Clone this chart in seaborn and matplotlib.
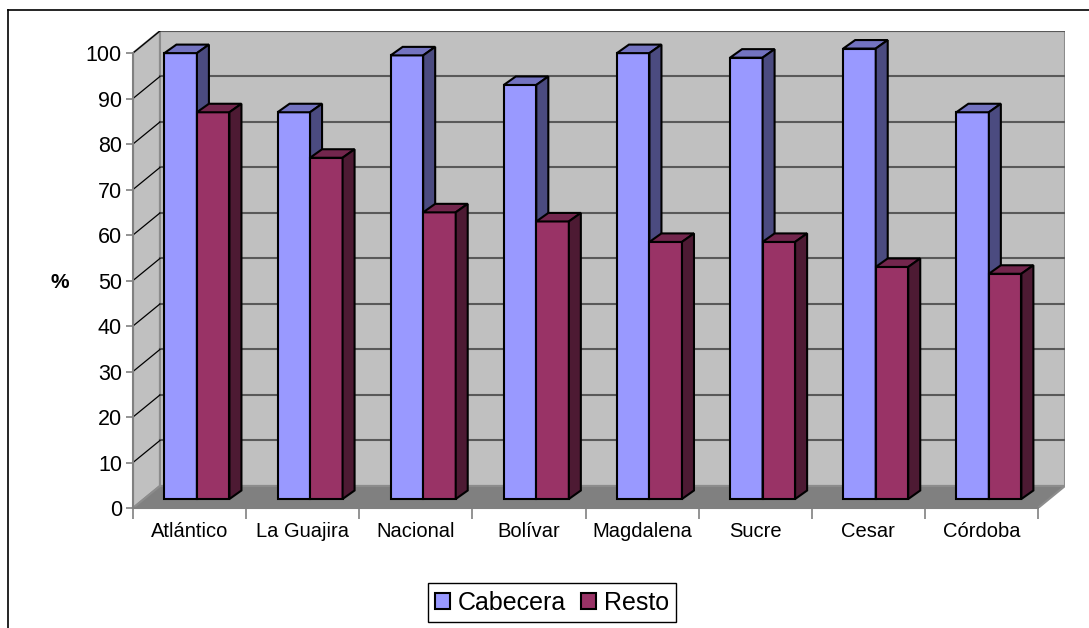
import matplotlib
matplotlib.use("Agg")
import matplotlib.pyplot as plt
import matplotlib.patches as mpatches
from matplotlib.lines import Line2D
import seaborn as sns
import numpy as np
import pandas as pd

departamentos = ["Atlántico", "La Guajira", "Nacional", "Bolívar",
                 "Magdalena", "Sucre", "Cesar", "Córdoba"]
cabecera = [98, 85, 97.5, 91, 98, 97, 99, 85]
resto = [85, 75, 63, 61, 56.5, 56.5, 51, 49.5]
series = ["Cabecera", "Resto"]
y_ticks = list(range(0, 101, 10))

face = {"Cabecera": "#9999FF", "Resto": "#993366"}
top_col = {"Cabecera": "#7373C0", "Resto": "#73264D"}
side_col = {"Cabecera": "#4B4B80", "Resto": "#4D1A33"}

plt.rcParams["font.family"] = ["Liberation Sans", "DejaVu Sans"]

df = pd.DataFrame({
    "dep": departamentos * 2,
    "serie": ["Cabecera"] * len(departamentos) + ["Resto"] * len(departamentos),
    "valor": cabecera + resto,
})

# 3D look (in data units)
wall_dx, wall_dy = 0.238, 4.84      # depth of the back wall
bar_ox, bar_oy = 0.065, 1.98        # bars sit a bit behind the front plane
bar_dx, bar_dy = 0.106, 1.87        # depth of each bar

fig = plt.figure(figsize=(10.89, 6.28), dpi=100)
ax = fig.add_axes([133 / 1089, 120 / 628, 932 / 1089, 477 / 628])

sns.barplot(data=df, x="dep", y="valor", hue="serie", hue_order=series,
            palette=face, width=0.575, dodge=True, gap=0, legend=False,
            edgecolor="black", linewidth=1.5, saturation=1, ax=ax)
bars = list(ax.patches)

n = len(departamentos)
x0, x1 = -0.5, n - 0.5
ax.set_xlim(x0, x1 + wall_dx)
ax.set_ylim(0, 100 + wall_dy)

# walls and floor
wall = mpatches.Rectangle((x0 + wall_dx, wall_dy), x1 - x0, 100,
                          facecolor="#C0C0C0", edgecolor="#8C8C8C", lw=1.5, zorder=0.5)
ax.add_patch(wall)
side = mpatches.Polygon([(x0, 0), (x0, 100), (x0 + wall_dx, 100 + wall_dy), (x0 + wall_dx, wall_dy)],
                        closed=True, facecolor="#C0C0C0", edgecolor="#8C8C8C", lw=1.5, zorder=0.6)
ax.add_patch(side)
floor = mpatches.Polygon([(x0, 0), (x1, 0), (x1 + wall_dx, wall_dy), (x0 + wall_dx, wall_dy)],
                         closed=True, facecolor="#808080", edgecolor="#8C8C8C", lw=1.5, zorder=0.7)
ax.add_patch(floor)
for t in y_ticks[1:]:
    ax.plot([x0 + wall_dx, x1 + wall_dx], [t + wall_dy, t + wall_dy], color="#595959", lw=1.5, zorder=0.8)
    ax.plot([x0, x0 + wall_dx], [t, t + wall_dy], color="black", lw=0.9, zorder=0.8)

# shift bars back and add top/side faces
for i, p in enumerate(bars):
    s = series[0] if i < n else series[1]
    z = 3 if s == "Cabecera" else 4
    p.set_x(p.get_x() + bar_ox)
    p.set_y(p.get_y() + bar_oy)
    p.set_zorder(z)
    bx, by, bw, bh = p.get_x(), p.get_y(), p.get_width(), p.get_height()
    top = mpatches.Polygon([(bx, by + bh), (bx + bw, by + bh), (bx + bw + bar_dx, by + bh + bar_dy),
                            (bx + bar_dx, by + bh + bar_dy)], closed=True,
                           facecolor=top_col[s], edgecolor="black", lw=1.5, zorder=z)
    sd = mpatches.Polygon([(bx + bw, by), (bx + bw + bar_dx, by + bar_dy), (bx + bw + bar_dx, by + bh + bar_dy),
                           (bx + bw, by + bh)], closed=True,
                          facecolor=side_col[s], edgecolor="black", lw=1.5, zorder=z)
    ax.add_patch(top)
    ax.add_patch(sd)

# axes
for k in ["top", "right"]:
    ax.spines[k].set_visible(False)
ax.spines["left"].set_bounds(0, 100)
ax.spines["bottom"].set_bounds(x0, x1)
for k in ["left", "bottom"]:
    ax.spines[k].set_color("#808080")
    ax.spines[k].set_linewidth(1.5)
    ax.spines[k].set_zorder(1)
ax.set_yticks(y_ticks)
ax.set_yticklabels([str(t) for t in y_ticks], fontsize=15.5)
ax.tick_params(axis="y", length=5, width=1.2, color="#808080", pad=3)
ax.set_xticks(np.arange(n))
ax.set_xticklabels(departamentos, fontsize=14.5)
ax.set_xticks(np.arange(n + 1) - 0.5, minor=True)
ax.tick_params(axis="x", which="major", length=0, pad=10)
ax.tick_params(axis="x", which="minor", length=8, width=1.2, color="#808080")
ax.set_xlabel("")
ax.set_ylabel("")
ax.set_facecolor("none")
fig.text(60 / 1089, 1 - 282 / 628, "%", fontsize=15, fontweight="bold", ha="center", va="center")

# legend
handles = [mpatches.Patch(facecolor=face[s], edgecolor="black", lw=1.5, label=s) for s in series]
fig.legend(handles=handles, loc="center", bbox_to_anchor=(552 / 1089, 25.5 / 628), ncol=2,
           fontsize=18, frameon=True, fancybox=False, edgecolor="black", framealpha=1,
           handlelength=0.6, handleheight=0.6, handletextpad=0.3, columnspacing=0.6,
           borderpad=0.3)

# outer frame (top and left edges visible)
fig.add_artist(Line2D([8 / 1089, 1], [1 - 10 / 628, 1 - 10 / 628], color="black", lw=1.2))
fig.add_artist(Line2D([8 / 1089, 8 / 1089], [0, 1 - 10 / 628], color="black", lw=1.2))

fig.savefig("out.png", dpi=100)
